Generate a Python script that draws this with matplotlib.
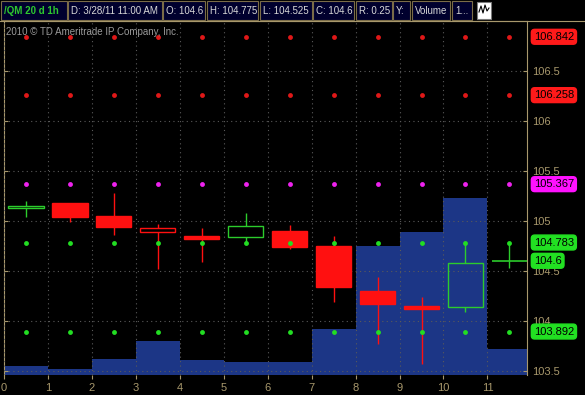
import matplotlib
matplotlib.use("Agg")
import matplotlib.pyplot as plt
import matplotlib.transforms as mtransforms
from matplotlib.patches import Rectangle
from matplotlib.lines import Line2D

plt.rcParams['font.family'] = ['Liberation Sans', 'DejaVu Sans']

# hourly bars, /QM 20 days 1h
bar_x = [0.5, 1.5, 2.5, 3.5, 4.5, 5.5, 6.5, 7.5, 8.5, 9.5, 10.5, 11.5]
opens = [105.13, 105.18, 105.05, 104.89, 104.85, 104.84, 104.90, 104.75, 104.30, 104.15, 104.14, 104.60]
highs = [105.20, 105.18, 105.28, 104.97, 104.93, 105.08, 104.96, 104.85, 104.44, 104.24, 104.79, 104.775]
lows = [105.04, 104.99, 104.86, 104.52, 104.59, 104.77, 104.72, 104.19, 103.77, 103.57, 104.09, 104.525]
closes = [105.15, 105.04, 104.94, 104.93, 104.82, 104.95, 104.74, 104.34, 104.17, 104.12, 104.58, 104.60]
volumes = [2600, 1700, 4500, 9600, 4200, 3700, 3700, 13000, 36500, 40500, 50100, 7400]

# pivot levels (dots) and right-side price bubbles
levels = [106.842, 106.258, 105.367, 104.783, 103.892]
level_colors = ['#e01818', '#e01818', '#ee22ee', '#22dd22', '#22dd22']
bubble_vals = [106.842, 106.258, 105.367, 104.783, 104.6, 103.892]
bubble_colors = ['#ff1a1a', '#ff1a1a', '#ff11ff', '#22e022', '#22e022', '#22e022']

x_ticks = list(range(12))
y_ticks = [103.5, 104, 104.5, 105, 105.5, 106, 106.5]
y_labels = ['103.5', '104', '104.5', '105', '105.5', '106', '106.5']

header = [('/QM 20 d 1h', 1, 67), ('D: 3/28/11 11:00 AM', 68, 162), ('O: 104.6', 163, 205),
          ('H: 104.775', 207, 258), ('L: 104.525', 260, 312), ('C: 104.6', 313, 354),
          ('R: 0.25', 356, 392), ('Y:', 393, 410), ('Volume', 412, 450), ('1...', 452, 472)]

TAN = '#a8986c'
W, H = 585, 395
fig = plt.figure(figsize=(W / 100, H / 100), dpi=100, facecolor='black')

rect = [4 / W, 20 / H, 523 / W, 354 / H]
axv = fig.add_axes(rect, facecolor='black')
ax = fig.add_axes(rect, facecolor='none')

# volume in the background
axv.bar(bar_x, volumes, width=1.0, color='#1c3686', edgecolor='none')
axv.set_ylim(0, 100000)
axv.set_xlim(0, 11.9)
axv.axis('off')

ax.set_xlim(0, 11.9)
ax.set_ylim(103.457, 107.0)

UP = '#2ccc2c'
DN = '#ff1010'
bw = 0.8
for i in range(len(bar_x)):
    x, o, h, l, c = bar_x[i], opens[i], highs[i], lows[i], closes[i]
    prev = closes[i - 1] if i > 0 else o
    col = UP if c >= prev else DN
    top, bot = max(o, c), min(o, c)
    ax.vlines(x, top, h, color=col, lw=1, zorder=3)
    ax.vlines(x, l, bot, color=col, lw=1, zorder=3)
    if c == o:
        ax.hlines(c, x - bw / 2, x + bw / 2, color=col, lw=1.2, zorder=4)
    elif c > o:
        ax.bar(x, top - bot, bottom=bot, width=bw, facecolor='none', edgecolor=col, lw=1, zorder=4)
    else:
        ax.bar(x, top - bot, bottom=bot, width=bw, facecolor=col, edgecolor=col, lw=1, zorder=4)

for lv, lc in zip(levels, level_colors):
    ax.plot(bar_x, [lv] * len(bar_x), ls='none', marker='o', ms=3.5, color=lc, mec='none', zorder=5)

# grid
ax.set_xticks(x_ticks)
ax.set_xticklabels([str(t) for t in x_ticks])
ax.set_yticks(y_ticks)
ax.set_yticklabels(y_labels)
ax.grid(True, color='#5a5a5a', ls=(0, (1, 3)), lw=0.8, zorder=2)
ax.set_axisbelow(False)
ax.yaxis.tick_right()
ax.tick_params(axis='y', colors=TAN, labelcolor=TAN, labelsize=8, direction='in', length=3, pad=4, left=True)
ax.tick_params(axis='x', colors=TAN, labelcolor=TAN, labelsize=8, direction='out', length=3, pad=3)
for side in ['left', 'right', 'top']:
    ax.spines[side].set_color(TAN)
    ax.spines[side].set_linewidth(0.8)
ax.spines['bottom'].set_visible(False)

# price bubbles on the right
trans = mtransforms.blended_transform_factory(ax.transAxes, ax.transData)
for v, bc in zip(bubble_vals, bubble_colors):
    ax.text(1.013, v, f'{v:g}', transform=trans, ha='left', va='center', fontsize=8,
            color='black', zorder=10, clip_on=False,
            bbox=dict(boxstyle='round,pad=0.22,rounding_size=0.3', fc=bc, ec=bc))

fig.text(6 / W, 1 - 32 / H, '2010 \u00a9 TD Ameritrade IP Company, Inc.', color='#9a9a9a',
         fontsize=7, va='center', ha='left')

# header strip
for j, (txt, x0, x1) in enumerate(header):
    fig.patches.append(Rectangle((x0 / W, 1 - 20 / H), (x1 - x0) / W, 19 / H, transform=fig.transFigure,
                                 facecolor='#00002e', edgecolor='#7a6c48', lw=0.8))
    fig.text((x0 + 3) / W, 1 - 10.5 / H, txt, fontsize=7, va='center', ha='left',
             color='#2ec82e' if j == 0 else '#d8d8d8', fontweight='bold' if j == 0 else 'normal')
fig.patches.append(Rectangle((477 / W, 1 - 19 / H), 14 / W, 17 / H, transform=fig.transFigure,
                             facecolor='white', edgecolor='#7a7a7a', lw=0.8))
icon_x = [479, 481, 483, 485, 487, 489]
icon_y = [12, 6, 13, 5, 11, 8]
fig.lines.append(Line2D([v / W for v in icon_x], [1 - v / H for v in icon_y], transform=fig.transFigure,
                        color='black', lw=0.8))
fig.lines.append(Line2D([0, 1], [1 - 21 / H, 1 - 21 / H], transform=fig.transFigure, color=TAN, lw=0.8))

fig.savefig('out.png', dpi=100, facecolor='black')
